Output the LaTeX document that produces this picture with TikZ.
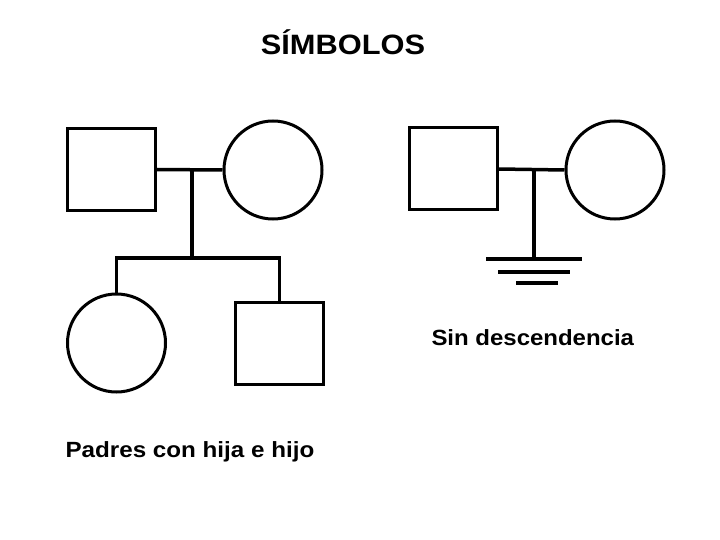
\documentclass[tikz,border=0pt]{standalone}
\usepackage{fontspec}
\setmainfont{Liberation Sans}
\usepackage{tikz}
\usetikzlibrary{positioning, calc}

\newcommand{\wideText}[2]{\scalebox{#1}[1]{#2}}

\begin{document}
\begin{tikzpicture}[
  x=1pt, y=-1pt,
  line width=3pt,
  male/.style={draw, rectangle, minimum width=88pt, minimum height=82pt,
    inner sep=0pt},
  female/.style={draw, circle, minimum size=98pt, inner sep=0pt},
  link/.style={line width=3.5pt},
  caption/.style={anchor=base west, inner sep=0pt,
    font=\fontsize{22}{26}\selectfont\bfseries},
  titletext/.style={anchor=base, inner sep=0pt,
    font=\fontsize{28}{32}\selectfont\bfseries}
]
  \useasboundingbox (0,0) rectangle (720,540);

  % Title
  \node[titletext] (title) at (343,55) {\wideText{1.1}{SÍMBOLOS}};

  % Parents with daughter and son
  \node[male] (fatherA) at (111.5,169.5) {};
  \node[female] (motherA) at (273,170) {};
  \node[female] (daughter) at (116.5,343) {};
  \node[male] (son) at (279.5,343.5) {};
  \coordinate (marriageA) at (192,170);
  \coordinate (sibship) at (192,258);
  \draw[link] (fatherA.east) -- (motherA.west);
  \draw[link] (marriageA) -- (sibship);
  \draw[link] (daughter.north) |- (sibship) -| (son.north);
  \node[caption] (captionA) at (64,457) {\wideText{1.1}{Padres con hija e hijo}};

  % Couple without offspring
  \node[male] (fatherB) at (453,169) {};
  \node[female] (motherB) at (615,170) {};
  \coordinate (marriageB) at (534,170);
  \coordinate (ground) at (534,259);
  \draw[link] (fatherB.east) -- (motherB.west);
  \draw[link] (marriageB) -- (ground);
  \draw[link] ($(ground)+(-48,0)$) -- ($(ground)+(48,0)$);
  \draw[link] ($(ground)+(-36,13)$) -- ($(ground)+(36,13)$);
  \draw[link] ($(ground)+(-18,24)$) -- ($(ground)+(24,24)$);
  \node[caption] (captionB) at (430,345) {\wideText{1.09}{Sin descendencia}};
\end{tikzpicture}
\end{document}
